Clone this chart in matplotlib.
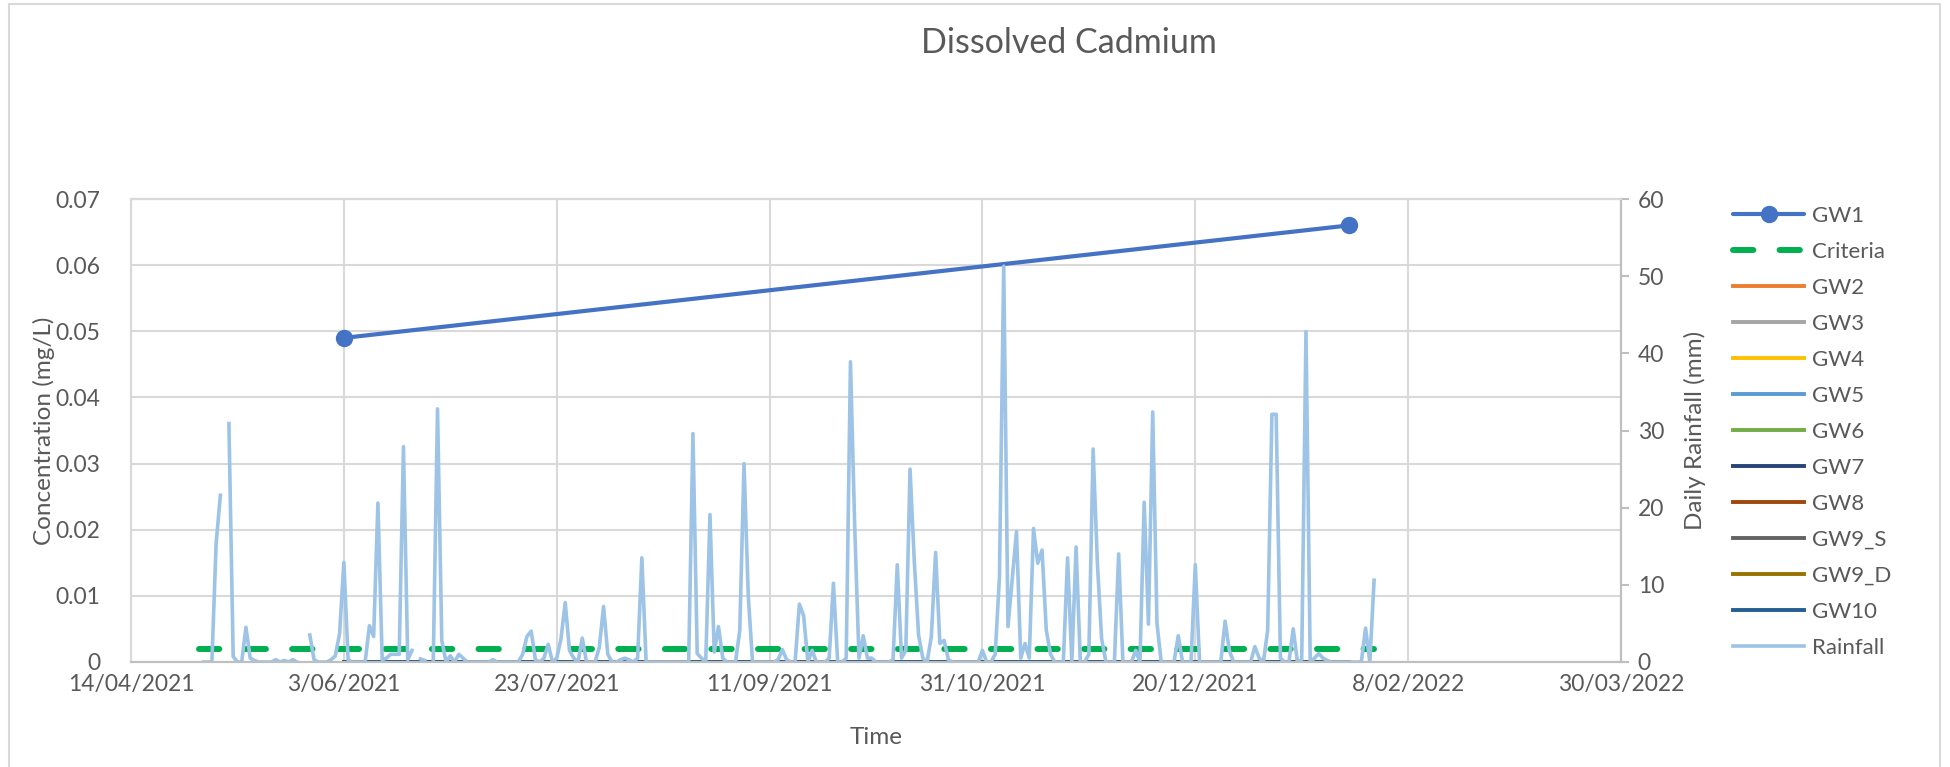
import numpy as np
import pandas as pd
import matplotlib
matplotlib.use("Agg")
import matplotlib.pyplot as plt
from matplotlib.lines import Line2D

plt.rcParams['font.family'] = ['Lato', 'DejaVu Sans']

# ---- data ----
title = "Dissolved Cadmium"
x_tick_labels = ["14/04/2021", "3/06/2021", "23/07/2021", "11/09/2021",
                 "31/10/2021", "20/12/2021", "8/02/2022", "30/03/2022"]

sample_dates = ["2021-06-03", "2022-01-25"]
gw1 = [0.049, 0.066]
gw_zero = [0.0, 0.0]          # GW2 .. GW10 all at zero on the same dates
gw_names = ["GW2", "GW3", "GW4", "GW5", "GW6", "GW7", "GW8", "GW9_S", "GW9_D", "GW10"]
gw_colors = ["#ED7D31", "#A5A5A5", "#FFC000", "#5B9BD5", "#70AD47",
             "#264478", "#9E480E", "#636363", "#997300", "#255E91"]

criteria_dates = ["2021-04-30", "2022-01-31"]
criteria = [0.002, 0.002]

rain_start = "2021-05-01"
nan = np.nan
rain_mm = [
    0, 0, 0, 15.4, 21.6, nan, 30.9, 0.7, 0, 0,          # 1 May
    4.5, 0.5, 0.2, 0, 0, 0, 0, 0.3, 0, 0.2,
    0, 0.3, 0, nan, nan, 3.5, 0.3, 0, 0, 0,
    0.3, 0.8, 3.7, 12.9, 0.3, 0, 0, 0, 0, 4.7,
    3.3, 20.6, 0.3, 0.5, 1, 1, 1, 27.9, 0.3, 1.5,
    nan, 0.4, 0.2, nan, 0, 32.8, 2.8, 0, 0.8, 0,
    1, 0.5, 0, 0, 0, 0, 0, 0, 0.3, 0,
    0, 0, 0, 0, 0, 1, 3.3, 4.0, 0.3, 0,
    0.5, 2.3, 0, 0.5, 3, 7.7, 1.5, 0.5, 0, 3.1,
    0, 0, 0, 1.9, 7.2, 1, 0, 0, 0.3, 0.5,
    0.3, 0, 0.5, 13.5, 0, 0, 0, 0, 0, 0,
    0, 0, 0, 0, 0, 29.6, 1.1, 0.5, 0, 19.1,
    1.3, 4.6, 0.5, 0, 0, 0, 4.1, 25.7, 8.5, 0,
    0, 0, 0, 0, 0, 0.3, 1.6, 0.3, 0, 0,
    7.5, 6.0, 0, 1.5, 0, 0, 0, 0.5, 10.2, 0,
    0, 0.5, 38.9, 17.5, 0.5, 3.4, 0.5, 0.5, 0, 0,
    0, 0, 0.3, 12.6, 0.5, 1.5, 25.0, 13, 3.5, 0.5,
    0, 3.3, 14.2, 2.4, 2.8, 0.3, 0, 0, 0, 0,
    0, 0, 0, 1.5, 0, 0, 1, 11, 51.3, 4.6,
    10.7, 16.9, 0.5, 2.4, 0.5, 17.3, 12.8, 14.5, 4.1, 1,
    0, 0, 0, 13.5, 0, 14.9, 0, 0, 1, 27.6,
    12.8, 3, 0, 0, 0, 14.0, 0, 0, 0, 1.5,
    0, 20.7, 4.9, 32.4, 5, 0, 0, 0, 0, 3.4,
    0, 0, 0, 12.6, 0, 0, 0, 0, 0, 0,
    5.3, 1.5, 0, 0, 0, 0, 0, 2.0, 0.5, 0,
    4.1, 32.1, 32.1, 0.5, 0, 0, 4.3, 0, 0.3, 42.8,
    0, 0.5, 1.1, 0.5, 0.2, 0, 0, 0, 0, 0,
    0, 0, 0, 4.4, 0, 10.6,
]

# ---- figure ----
fig = plt.figure(figsize=(19.5, 7.67), dpi=100)
ax = fig.add_axes([131 / 1950, 1 - 662 / 767, (1621 - 131) / 1950, (662 - 199) / 767])
ax2 = ax.twinx()

txt = "#595959"
grid_c = "#D9D9D9"
axis_c = "#BFBFBF"

sd = pd.to_datetime(sample_dates)
h_gw1, = ax.plot(sd, gw1, color="#4472C4", lw=3.0, marker="o", ms=11.5,
                 label="GW1", zorder=5, solid_capstyle="round")
h_crit, = ax.plot(pd.to_datetime(criteria_dates), criteria, color="#00B050",
                  lw=4.3, dashes=(3.4, 4.4), dash_capstyle="round",
                  label="Criteria", zorder=4)
handles = [h_gw1, h_crit]
for name, col in zip(gw_names, gw_colors):
    h, = ax.plot(sd, gw_zero, color=col, lw=2.8, label=name, zorder=4)
    handles.append(h)

rain_dates = pd.date_range(rain_start, periods=len(rain_mm), freq="D")
h_rain, = ax2.plot(rain_dates, rain_mm, color="#9DC3E6", lw=2.6,
                   label="Rainfall")
handles.append(h_rain)

# axes limits and ticks
tick_dates = pd.to_datetime(x_tick_labels, format="%d/%m/%Y")
ax.set_xlim(tick_dates[0], tick_dates[-1])
ax.set_xticks(tick_dates)
ax.set_xticklabels(x_tick_labels)
ax.set_ylim(0, 0.07)
ax.set_yticks(np.arange(0, 0.0701, 0.01))
ax.set_yticklabels(["0"] + [f"{v:.2f}" for v in np.arange(0.01, 0.0701, 0.01)])
ax2.set_ylim(0, 60)
ax2.set_yticks(np.arange(0, 61, 10))

ax.grid(True, color=grid_c, lw=1.5)
ax.set_axisbelow(True)
ax.tick_params(axis="both", length=0, labelsize=16.5, labelcolor=txt)
ax.tick_params(axis="y", pad=22)
ax.tick_params(axis="x", pad=9)
ax2.tick_params(axis="y", length=6, width=1.5, color=axis_c, labelsize=16.5,
                labelcolor=txt, pad=6, direction="out")

for a in (ax, ax2):
    a.spines["top"].set_color(grid_c)
    a.spines["left"].set_color(grid_c)
    a.spines["bottom"].set_color(axis_c)
    a.spines["right"].set_color(axis_c)
    for s in a.spines.values():
        s.set_linewidth(1.5)

ax.set_ylabel("Concentration (mg/L)", fontsize=17.5, color=txt)
ax2.set_ylabel("Daily Rainfall (mm)", fontsize=17.5, color=txt)
ax.set_xlabel("Time", fontsize=17.5, color=txt)
ax.yaxis.set_label_coords(-0.051, 0.5)
ax2.yaxis.set_label_coords(1.042, 0.5)
ax.xaxis.set_label_coords(0.5, -0.141)

fig.text(1069 / 1950, 1 - 43 / 767, title, fontsize=24.5, color=txt,
         ha="center", va="center")

leg = fig.legend(handles=handles, loc="upper left",
                 bbox_to_anchor=(1733 / 1950, 1 - 206 / 767),
                 frameon=False, fontsize=16, handlelength=3.2,
                 handletextpad=0.35, labelspacing=0.72, borderpad=0,
                 borderaxespad=0)
for t in leg.get_texts():
    t.set_color(txt)

# chart area border
for xs, ys in [([9, 9], [0, 763]), ([9, 1940], [763, 763]), ([1940, 1940], [0, 763])]:
    fig.add_artist(Line2D([x / 1950 for x in xs], [y / 767 for y in ys],
                          color=grid_c, lw=1.5))

fig.savefig("out.png", dpi=100)
